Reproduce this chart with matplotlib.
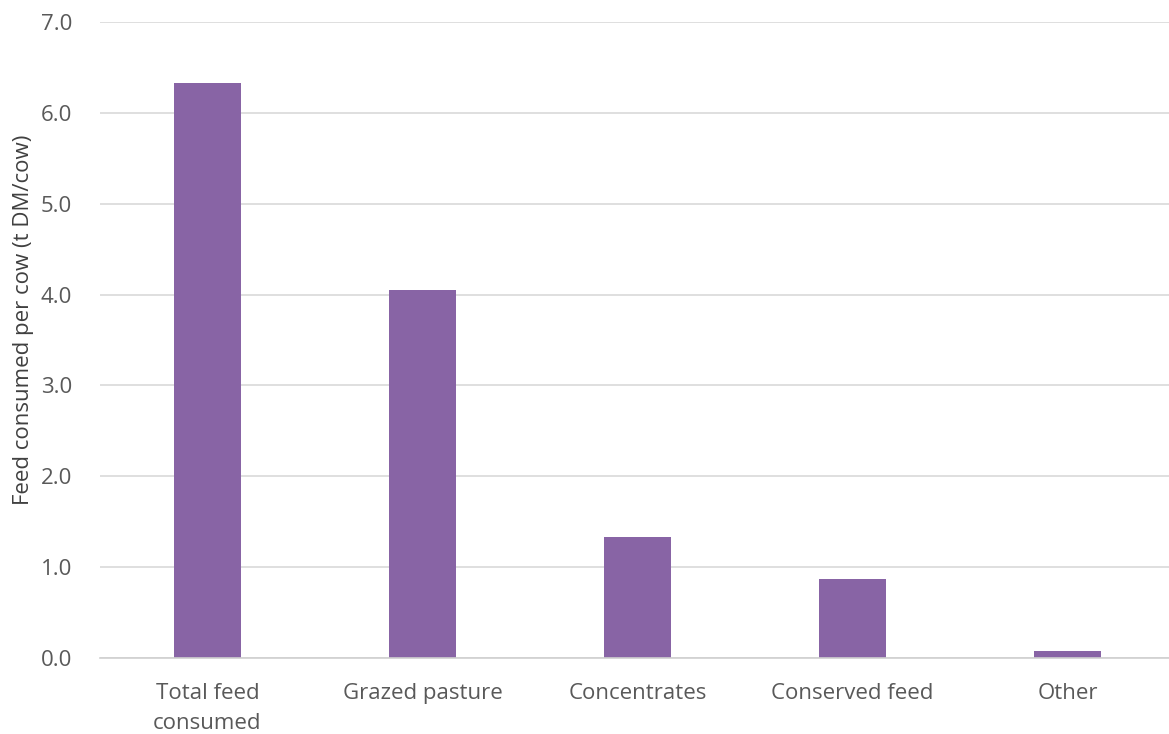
import matplotlib
matplotlib.use('Agg')
import matplotlib.pyplot as plt

# feed consumed per cow, tonnes dry matter
categories = ['Total feed\nconsumed', 'Grazed pasture', 'Concentrates', 'Conserved feed', 'Other']
values = [6.33, 4.05, 1.33, 0.87, 0.08]
yticks = [0.0, 1.0, 2.0, 3.0, 4.0, 5.0, 6.0, 7.0]

plt.rcParams['font.family'] = ['Open Sans', 'DejaVu Sans']

fig = plt.figure(figsize=(11.69, 7.34), dpi=100)
ax = fig.add_axes([100 / 1169, 76 / 734, 1075 / 1169, 636 / 734])

x = range(len(categories))
ax.bar(x, values, width=0.31, color='#8864a5', zorder=3)

ax.set_xlim(-0.5, 4.5)
ax.set_ylim(0, 7)
ax.set_yticks(yticks)
ax.set_yticklabels(['%.1f' % t for t in yticks])
ax.set_xticks(list(x))
ax.set_xticklabels(categories, linespacing=1.55)

ax.grid(axis='y', color='#d9d9d9', linewidth=1.2, zorder=0)
for s in ['top', 'right', 'left']:
    ax.spines[s].set_visible(False)
ax.spines['bottom'].set_color('#d0d0d0')
ax.spines['bottom'].set_linewidth(1.2)
ax.spines['bottom'].set_zorder(4)

ax.tick_params(axis='both', length=0, labelsize=16, labelcolor='#595959')
ax.tick_params(axis='x', pad=18)
ax.tick_params(axis='y', pad=20)

# axis title placed by hand so it stays inside the figure
fig.text(24 / 1169, 1 - 320 / 734, 'Feed consumed per cow (t DM/cow)', rotation=90,
         ha='center', va='center', fontsize=16, color='#404040')

plt.savefig('out.png', dpi=100)
